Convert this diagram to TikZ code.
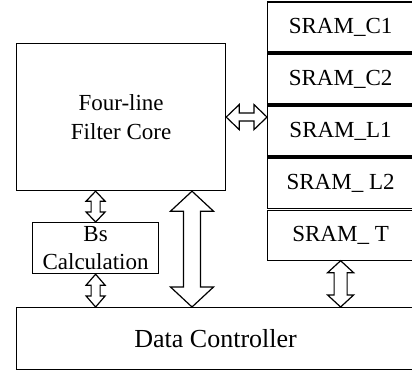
\documentclass[tikz,border=0pt]{standalone}
\usepackage{fontspec}
\setmainfont{Liberation Serif}
\usetikzlibrary{calc}

% vertical double-headed bus arrow: top point, bottom point, head half-width, shaft half-width, head length
\newcommand\vbus[5]{%
  \draw[bus] let \p1=(#1), \p2=(#2) in
    (\x1,\y1) -- (\x1+#3,\y1-#5) -- (\x1+#4,\y1-#5) -- (\x1+#4,\y2+#5) -- (\x1+#3,\y2+#5)
    -- (\x1,\y2) -- (\x1-#3,\y2+#5) -- (\x1-#4,\y2+#5) -- (\x1-#4,\y1-#5) -- (\x1-#3,\y1-#5) -- cycle;}
% horizontal double-headed bus arrow: left point, right point, head half-height, shaft half-height, head length
\newcommand\hbus[5]{%
  \draw[bus] let \p1=(#1), \p2=(#2) in
    (\x1,\y1) -- (\x1+#5,\y1+#3) -- (\x1+#5,\y1+#4) -- (\x2-#5,\y1+#4) -- (\x2-#5,\y1+#3)
    -- (\x2,\y1) -- (\x2-#5,\y1-#3) -- (\x2-#5,\y1-#4) -- (\x1+#5,\y1-#4) -- (\x1+#5,\y1-#3) -- cycle;}

\tikzset{
  block/.style={draw, line width=1.2pt, inner sep=0pt, anchor=north west, align=center,
    font=\rmfamily\fontsize{23}{28.5}\selectfont},
  srambox/.style={block, minimum width=146pt, minimum height=50pt},
  bus/.style={draw, fill=white, line width=1.2pt, line join=miter},
}

\begin{document}
\begin{tikzpicture}[x=1pt, y=-1pt]
  \useasboundingbox (0,0) rectangle (412,374);

  \node[block, minimum width=209pt, minimum height=147pt] (core) at (16,43) {Four-line\\Filter Core};
  \node[block, minimum width=126pt, minimum height=51pt] (bs) at (32,222) {Bs\\Calculation};
  \node[block, minimum width=398pt, minimum height=62pt, font=\rmfamily\fontsize{26}{30}\selectfont] (dc) at (16,307) {Data Controller};

  \node[srambox] (sram1) at (267,1.5) {SRAM\_C1};
  \node[srambox] (sram2) at (267,53.5) {SRAM\_C2};
  \node[srambox] (sram3) at (267,105.5) {SRAM\_L1};
  \node[srambox] (sram4) at (267,157.5) {SRAM\_ L2};
  \node[srambox] (sram5) at (267,209.5) {SRAM\_ T};

  \coordinate (busx) at (192,0);

  \hbus{core.east}{core.east -| sram3.west}{12.5pt}{4pt}{13pt}
  \vbus{bs.north |- core.south}{bs.north}{9.5pt}{4.5pt}{10pt}
  \vbus{bs.south}{bs.south |- dc.north}{9.5pt}{4.5pt}{11pt}
  \vbus{busx |- core.south}{busx |- dc.north}{21.5pt}{8.5pt}{20pt}
  \vbus{sram5.south}{sram5.south |- dc.north}{13pt}{6.5pt}{12pt}
\end{tikzpicture}
\end{document}
